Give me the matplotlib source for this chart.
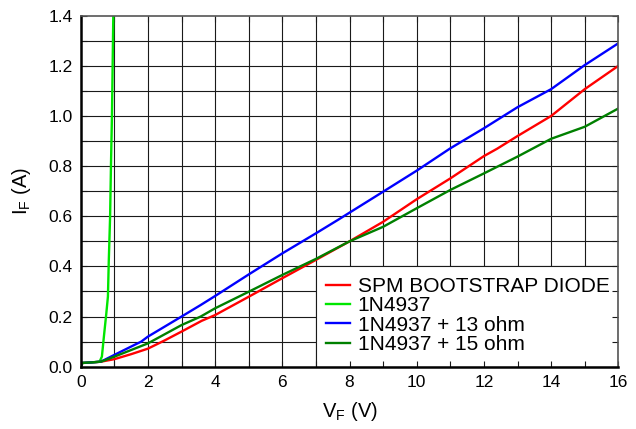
import numpy as np
import matplotlib
matplotlib.use('Agg')
from matplotlib import pyplot as plt
from matplotlib.patches import Rectangle
from matplotlib.ticker import MultipleLocator

plt.rcParams['font.family'] = ['Liberation Sans', 'DejaVu Sans']

# Valores: tension directa (V) y corriente directa (A)
v_spm = [0, 0.05, 0.3, 0.6, 1, 1.5, 2, 2.5, 3, 3.6, 4, 5, 6, 7, 8, 9, 10, 11, 12, 12.4, 13, 14, 15, 16]
i_spm = [0.0, 0.015, 0.017, 0.02, 0.03, 0.05, 0.072, 0.105, 0.14, 0.183, 0.206, 0.279, 0.353, 0.426,
         0.5, 0.578, 0.668, 0.751, 0.84, 0.87, 0.92, 1.0, 1.107, 1.2]

v_1n = [0, 0.05, 0.3, 0.56, 0.63, 0.69, 0.76, 0.81, 0.835, 0.875, 0.90, 0.93, 0.97]
i_1n = [0.0, 0.015, 0.017, 0.02, 0.04, 0.12, 0.21, 0.28, 0.42, 0.6, 0.8, 1.0, 1.4]

v_13 = [0, 0.05, 0.3, 0.6, 1, 1.6, 1.8, 2, 3, 3.57, 4, 5, 6, 7, 7.66, 9, 10, 11, 12, 13, 14, 15, 16]
i_13 = [0.0, 0.015, 0.017, 0.02, 0.047, 0.087, 0.1, 0.12, 0.2, 0.246, 0.282, 0.368, 0.452, 0.532,
        0.586, 0.698, 0.782, 0.871, 0.951, 1.035, 1.107, 1.203, 1.29]

v_15 = [0, 0.05, 0.3, 0.6, 1, 2, 3, 3.57, 4, 5, 6, 7, 8, 9, 10, 11, 12, 13, 14, 15, 16]
i_15 = [0.0, 0.015, 0.017, 0.02, 0.04, 0.093, 0.166, 0.2, 0.233, 0.299, 0.366, 0.43, 0.5, 0.558,
        0.632, 0.705, 0.771, 0.838, 0.909, 0.957, 1.03]

series = [
    (v_spm, i_spm, 'SPM BOOTSTRAP DIODE', '#ff0000'),
    (v_1n, i_1n, '1N4937', '#00e600'),
    (v_13, i_13, '1N4937 + 13 ohm', '#0000ff'),
    (v_15, i_15, '1N4937 + 15 ohm', '#008000'),
]

fig = plt.figure(figsize=(6.36, 4.29), dpi=100)
ax = fig.add_axes([0.1269, 0.1452, 0.9722 - 0.1269, 0.9634 - 0.1452])

x_max, y_max = 16, 1.4
ax.set_xlim(0, x_max)
ax.set_ylim(0, y_max)

# Rejilla dibujada a mano para que la caja de la leyenda la tape
grid_x = np.arange(1, x_max)
grid_y = np.arange(1, 14) * 0.1
ax.vlines(grid_x, 0, y_max, colors='#1a1a1a', linewidth=0.8, zorder=0.5)
ax.hlines(grid_y, 0, x_max, colors='#1a1a1a', linewidth=0.8, zorder=0.5)

# Caja blanca de la leyenda
ax.add_patch(Rectangle((7, 0), 9, 0.4, facecolor='white', edgecolor='#1a1a1a', linewidth=0.8, zorder=1))

for v, i, label, color in series:
    ax.plot(v, i, color=color, linewidth=1.7, label=label, zorder=2)

ax.xaxis.set_major_locator(MultipleLocator(2))
ax.xaxis.set_minor_locator(MultipleLocator(1))
ax.yaxis.set_minor_locator(MultipleLocator(0.1))
ax.set_yticks(np.arange(0, 1.41, 0.2))
ax.set_yticklabels([f'{t:.1f}' for t in np.arange(0, 1.41, 0.2)])

ax.tick_params(which='both', direction='in', top=True, right=True, length=4,
               width=0.8, color='#1a1a1a', labelsize=12.5, pad=6)

for spine in ['bottom', 'left']:
    ax.spines[spine].set_linewidth(1.8)
    ax.spines[spine].set_color('black')
for spine in ['top', 'right']:
    ax.spines[spine].set_linewidth(1.2)
    ax.spines[spine].set_color('#555555')

ax.set_xlabel('V$_\\mathregular{F}$ (V)', fontsize=14.5, labelpad=7)
ax.set_ylabel('I$_\\mathregular{F}$ (A)', fontsize=14.5, labelpad=11)

ax.legend(loc='upper left', bbox_to_anchor=(7, 0.4), bbox_transform=ax.transData,
          frameon=False, fontsize=15, borderaxespad=0, borderpad=0.5,
          handlelength=1.15, handletextpad=0.35, labelspacing=0.02)

fig.savefig('out.png', dpi=100)
